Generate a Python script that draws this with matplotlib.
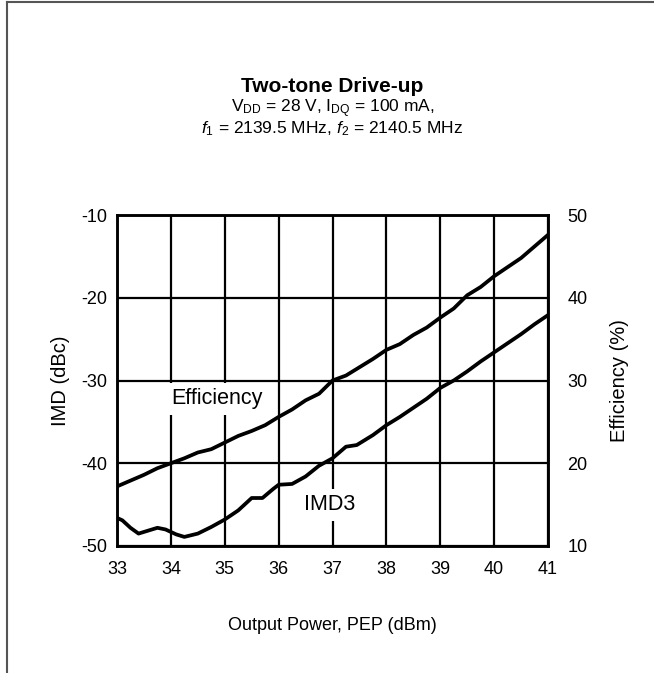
import matplotlib
matplotlib.use("Agg")
import matplotlib.pyplot as plt
from matplotlib.lines import Line2D

plt.rcParams["font.family"] = ["Liberation Sans", "DejaVu Sans"]
plt.rcParams["mathtext.fontset"] = "custom"
plt.rcParams["mathtext.rm"] = "Liberation Sans"
plt.rcParams["mathtext.it"] = "Liberation Sans:italic"
plt.rcParams["mathtext.bf"] = "Liberation Sans:bold"
plt.rcParams["axes.unicode_minus"] = False

# Output power, PEP (dBm) and measured traces
pout_eff = [33.0, 33.25, 33.5, 33.75, 34.0, 34.25, 34.5, 34.75, 35.0, 35.25,
            35.5, 35.75, 36.0, 36.25, 36.5, 36.75, 37.0, 37.25, 37.5, 37.75,
            38.0, 38.25, 38.5, 38.75, 39.0, 39.25, 39.5, 39.75, 40.0, 40.25,
            40.5, 40.75, 41.0]
efficiency = [17.2, 17.9, 18.6, 19.4, 20.0, 20.6, 21.3, 21.7, 22.5, 23.3,
              23.9, 24.6, 25.6, 26.5, 27.6, 28.4, 30.0, 30.6, 31.6, 32.6,
              33.7, 34.4, 35.5, 36.4, 37.6, 38.7, 40.3, 41.3, 42.6, 43.7,
              44.8, 46.2, 47.6]

pout_imd = [33.0, 33.1, 33.25, 33.4, 33.55, 33.75, 33.9, 34.1, 34.25, 34.5,
            34.75, 35.0, 35.25, 35.5, 35.7, 35.9, 36.0, 36.25, 36.5, 36.75,
            37.0, 37.25, 37.45, 37.75, 38.0, 38.25, 38.5, 38.75, 39.0, 39.25,
            39.5, 39.75, 40.0, 40.25, 40.5, 40.75, 41.0]
imd3 = [-46.6, -46.9, -47.8, -48.5, -48.2, -47.8, -48.0, -48.6, -48.9, -48.5,
        -47.7, -46.8, -45.7, -44.2, -44.2, -43.1, -42.6, -42.5, -41.6, -40.3,
        -39.4, -38.0, -37.8, -36.6, -35.4, -34.4, -33.3, -32.2, -30.9, -30.0,
        -28.9, -27.7, -26.6, -25.5, -24.4, -23.2, -22.1]

x_ticks = [33, 34, 35, 36, 37, 38, 39, 40, 41]
imd_ticks = [-50, -40, -30, -20, -10]
eff_ticks = [10, 20, 30, 40, 50]

W, H = 654, 673
fig = plt.figure(figsize=(W / 100, H / 100), dpi=100)
ax = fig.add_axes([117 / W, 1 - 546 / H, (548 - 117) / W, (546 - 215) / H])
ax2 = ax.twinx()

ax.set_xlim(33, 41)
ax.set_ylim(-50, -10)
ax2.set_ylim(10, 50)
ax.set_xticks(x_ticks)
ax.set_yticks(imd_ticks)
ax2.set_yticks(eff_ticks)
ax.grid(True, color="black", linewidth=1.6)
ax.tick_params(axis="x", length=0, labelsize=13, pad=11)
ax.tick_params(axis="y", length=0, labelsize=13, pad=7)
ax2.tick_params(length=0, labelsize=13, pad=14)
for a in (ax, ax2):
    for s in a.spines.values():
        s.set_linewidth(1.8)

ax.plot(pout_imd, imd3, color="black", linewidth=2.7, zorder=3)
ax2.plot(pout_eff, efficiency, color="black", linewidth=2.7, zorder=3)

ax.set_xlabel("Output Power, PEP (dBm)", fontsize=13, labelpad=28)
ax.set_ylabel("IMD (dBc)", fontsize=14.5, labelpad=8)
ax2.set_ylabel("Efficiency (%)", fontsize=14.5, labelpad=16)

ax.text(34.85, -32.2, "Efficiency", fontsize=15.5, ha="center", va="center",
        zorder=4, bbox=dict(facecolor="white", edgecolor="none", pad=4))
ax.text(36.95, -45.0, "IMD3", fontsize=15.5, ha="center", va="center",
        zorder=4, bbox=dict(facecolor="white", edgecolor="none", pad=4))

cx = (117 + 548) / 2 / W
fig.text(cx, 1 - 86 / H, "Two-tone Drive-up", fontsize=15, fontweight="bold",
         ha="center", va="center")
fig.text(cx, 1 - 109 / H, r"V$_{\rm DD}$ = 28 V, I$_{\rm DQ}$ = 100 mA,",
         fontsize=12.5, ha="center", va="center")
fig.text(cx, 1 - 129 / H,
         r"$\it{f}$$_{\rm 1}$ = 2139.5 MHz, $\it{f}$$_{\rm 2}$ = 2140.5 MHz",
         fontsize=12.5, ha="center", va="center")

# page frame (left and top edges)
fig.add_artist(Line2D([7 / W, 7 / W], [0, 1 - 2 / H], color="#555555",
                      linewidth=1.5, transform=fig.transFigure))
fig.add_artist(Line2D([7 / W, 1], [1 - 2 / H, 1 - 2 / H], color="#555555",
                      linewidth=1.5, transform=fig.transFigure))

fig.savefig("out.png", dpi=100)
